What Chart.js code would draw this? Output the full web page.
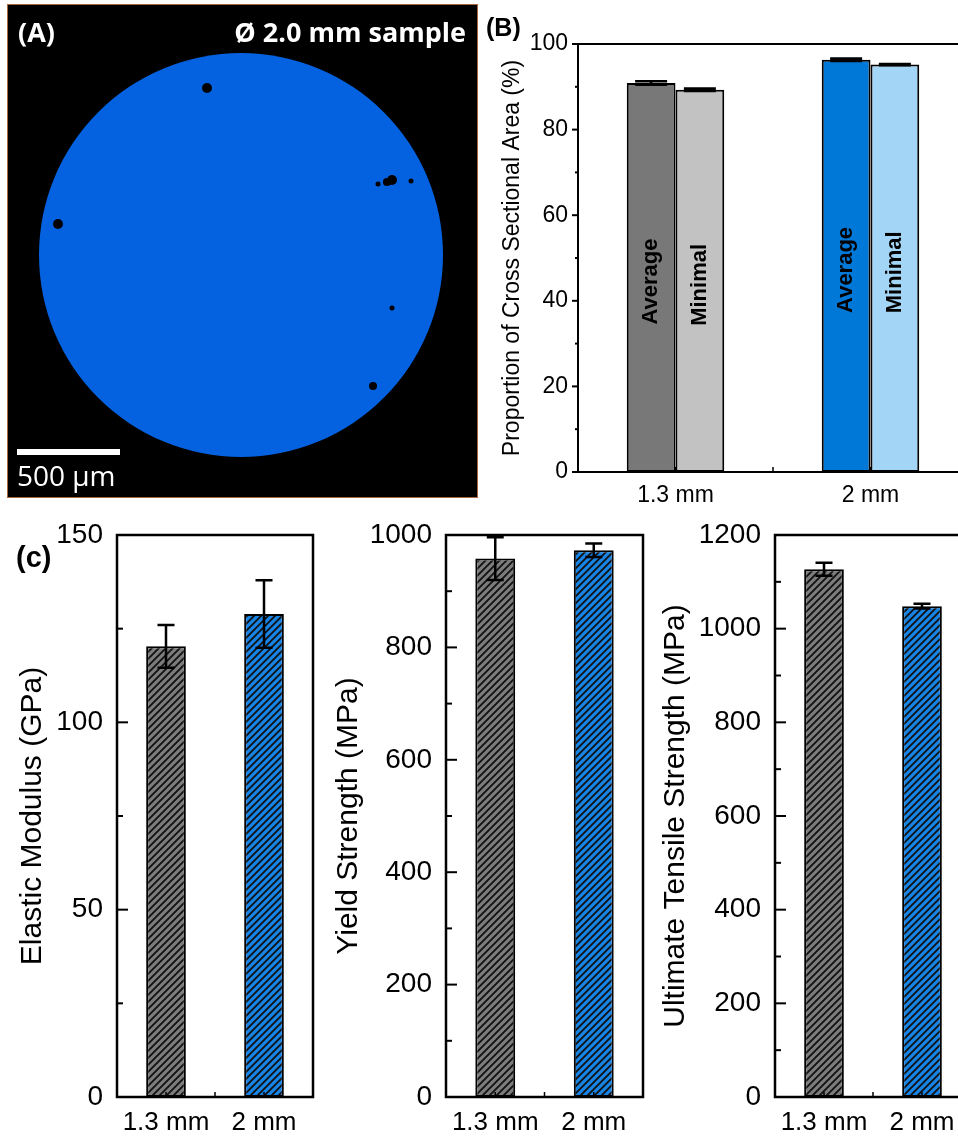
<!DOCTYPE html>
<html>
<head>
<meta charset="utf-8">
<script src="https://cdn.jsdelivr.net/npm/chart.js@4.4.1/dist/chart.umd.min.js"></script>
<style>
html, body { margin: 0; padding: 0; background: #fff; width: 958px; height: 1136px; overflow: hidden; position: relative; }
.box { position: absolute; overflow: hidden; }
.lbl { position: absolute; font: bold 25px "Liberation Sans", Arial, sans-serif; color: #000; }
</style>
</head>
<body>
<canvas id="micro" class="box" width="480" height="505" style="left:0;top:0"></canvas>
<div class="box" style="left:480px;top:0;width:478px;height:520px"><canvas id="areaChart" width="490" height="520"></canvas></div>
<div class="box" style="left:0;top:520px;width:330px;height:616px"><canvas id="modChart" width="330" height="616"></canvas></div>
<div class="box" style="left:330px;top:520px;width:330px;height:616px"><canvas id="yieldChart" width="330" height="616"></canvas></div>
<div class="box" style="left:660px;top:520px;width:298px;height:616px"><canvas id="utsChart" width="330" height="616"></canvas></div>
<div class="lbl" style="left:486px;top:13px">(B)</div>
<div class="lbl" style="left:16px;top:541px;font-size:29px">(c)</div>
<script>
// panel B: porosity
const areaCats = ['1.3 mm', '2 mm'];
const areaAverage = [90.9, 96.3];
const areaAverageErr = [0.4, 0.3];
const areaMinimal = [89.3, 95.2];
const areaMinimalErr = [0.3, 0.15];
const areaTicks = [0, 20, 40, 60, 80, 100];

// panel C: tensile results
const mechCats = ['1.3 mm', '2 mm'];
const modulus = [120.3, 128.9];
const modulusErr = [5.7, 9.0];
const modulusTicks = [0, 50, 100, 150];
const yieldStr = [958, 973];
const yieldErr = [38, 12];
const yieldTicks = [0, 200, 400, 600, 800, 1000];
const uts = [1127, 1048];
const utsErr = [14, 5];
const utsTicks = [0, 200, 400, 600, 800, 1000, 1200];

Chart.defaults.font.family = '"Liberation Sans", Arial, sans-serif';
Chart.defaults.color = '#000';

// micrograph (panel A)
(function () {
  const c = document.getElementById('micro').getContext('2d');
  c.fillStyle = '#000';
  c.fillRect(8, 5, 470, 493);
  c.strokeStyle = '#a8683c';
  c.lineWidth = 1;
  c.strokeRect(7.5, 4.5, 470, 493);
  c.fillStyle = '#0462e0';
  c.beginPath();
  c.arc(241, 255, 202, 0, Math.PI * 2);
  c.fill();
  c.fillStyle = '#000';
  [[207, 88, 5], [58, 224, 5], [392, 180, 5], [387, 182, 4], [378, 184, 2.5], [411, 181, 2.5], [392, 308, 2.5], [373, 386, 4]].forEach(p => {
    c.beginPath(); c.arc(p[0], p[1], p[2], 0, Math.PI * 2); c.fill();
  });
  c.fillStyle = '#fff';
  c.font = 'bold 27px "Open Sans", sans-serif';
  c.fillText('(A)', 18, 42);
  c.textAlign = 'right';
  c.fillText('\u00D8 2.0 mm sample', 466, 42);
  c.fillRect(17, 449, 103, 6);
  c.textAlign = 'left';
  c.font = '28px "Open Sans", sans-serif';
  c.fillText('500 \u00B5m', 17, 486);
})();

function hatch(base) {
  const t = document.createElement('canvas');
  t.width = 7; t.height = 7;
  const g = t.getContext('2d');
  g.fillStyle = base;
  g.fillRect(0, 0, 7, 7);
  g.strokeStyle = '#111';
  g.lineWidth = 1.8;
  g.beginPath();
  g.moveTo(-1, 8); g.lineTo(8, -1);
  g.moveTo(-1, 1); g.lineTo(1, -1);
  g.moveTo(6, 8); g.lineTo(8, 6);
  g.stroke();
  return g.createPattern(t, 'repeat');
}

// box, tick marks, category ticks
const frame = {
  id: 'frame',
  afterDatasetsDraw(chart, args, o) {
    const { ctx, chartArea: a, scales: { x, y } } = chart;
    ctx.save();
    ctx.strokeStyle = '#000';
    ctx.lineWidth = o.lw;
    ctx.strokeRect(a.left, a.top, a.right - a.left, a.bottom - a.top);
    ctx.lineWidth = 2;
    y.ticks.forEach(t => {
      const py = y.getPixelForValue(t.value);
      const len = t.label !== '' ? o.major : o.minor;
      ctx.beginPath();
      ctx.moveTo(a.left, py);
      ctx.lineTo(a.left + o.dir * len, py);
      ctx.stroke();
    });
    ctx.lineWidth = 1.5;
    const c0 = x.getPixelForValue(0), c1 = x.getPixelForValue(1);
    [c0, (c0 + c1) / 2, c1].forEach(px => {
      ctx.beginPath();
      ctx.moveTo(px, a.bottom);
      ctx.lineTo(px, a.bottom - 5);
      ctx.stroke();
    });
    ctx.restore();
  }
};

const errbars = {
  id: 'errbars',
  afterDatasetsDraw(chart, args, o) {
    const { ctx, scales: { y } } = chart;
    ctx.save();
    ctx.strokeStyle = '#000';
    ctx.lineWidth = o.width;
    chart.data.datasets.forEach((ds, di) => {
      chart.getDatasetMeta(di).data.forEach((el, i) => {
        const v = ds.data[i], e = ds.errors[i];
        const top = y.getPixelForValue(v + e), bot = y.getPixelForValue(v - e);
        ctx.beginPath();
        ctx.moveTo(el.x, top); ctx.lineTo(el.x, bot);
        ctx.moveTo(el.x - o.cap, top); ctx.lineTo(el.x + o.cap, top);
        ctx.moveTo(el.x - o.cap, bot); ctx.lineTo(el.x + o.cap, bot);
        ctx.stroke();
      });
    });
    ctx.restore();
  }
};

const inLabels = {
  id: 'inLabels',
  afterDatasetsDraw(chart) {
    const { ctx } = chart;
    ctx.save();
    ctx.fillStyle = '#000';
    ctx.font = 'bold 22px "Liberation Sans", Arial, sans-serif';
    ctx.textAlign = 'center';
    ctx.textBaseline = 'middle';
    chart.data.datasets.forEach((ds, di) => {
      chart.getDatasetMeta(di).data.forEach(el => {
        ctx.save();
        ctx.translate(el.x, (el.y + el.base) / 2 + 4);
        ctx.rotate(-Math.PI / 2);
        ctx.fillText(ds.label, 0, 0);
        ctx.restore();
      });
    });
    ctx.restore();
  }
};

function fixY(w) {
  return s => { s.width = w; s.paddingTop = 0; s.paddingBottom = 0; };
}
function fixX(h) {
  return s => { s.height = h; s.paddingLeft = 0; s.paddingRight = 0; };
}

new Chart(document.getElementById('areaChart'), {
  type: 'bar',
  data: {
    labels: areaCats,
    datasets: [
      { label: 'Average', data: areaAverage, errors: areaAverageErr, backgroundColor: ['#787878', '#0078d7'], borderColor: '#000', borderWidth: 2, borderSkipped: false },
      { label: 'Minimal', data: areaMinimal, errors: areaMinimalErr, backgroundColor: ['#c2c2c2', '#a3d5f6'], borderColor: '#000', borderWidth: 2, borderSkipped: false }
    ]
  },
  options: {
    responsive: false,
    animation: false,
    layout: { padding: { left: 0, top: 44, right: 2, bottom: 0 } },
    datasets: { bar: { categoryPercentage: 0.5, barPercentage: 1 } },
    plugins: {
      legend: { display: false },
      tooltip: { enabled: false },
      errbars: { cap: 16, width: 2.5 },
      frame: { dir: -1, major: 6, minor: 3, lw: 2 }
    },
    scales: {
      x: {
        grid: { display: false, drawTicks: false },
        border: { display: false },
        ticks: { font: { size: 23 }, padding: 10 },
        afterFit: fixX(48)
      },
      y: {
        min: 0, max: 100,
        grid: { display: false, drawTicks: false },
        border: { display: false },
        ticks: { stepSize: 10, autoSkip: false, font: { size: 23 }, padding: 10,
          callback: v => areaTicks.includes(v) ? String(v) : '' },
        title: { display: true, text: 'Proportion of Cross Sectional Area (%)', font: { size: 23 }, padding: { top: 19, bottom: 0 } },
        afterFit: fixY(98)
      }
    }
  },
  plugins: [frame, errbars, inLabels]
});

function mechChart(id, values, errs, ticks, minorStep, title, titlePad, yWidth, padRight) {
  const max = ticks[ticks.length - 1];
  return new Chart(document.getElementById(id), {
    type: 'bar',
    data: {
      labels: mechCats,
      datasets: [{ label: title, data: values, errors: errs,
        backgroundColor: [hatch('#7c7c7c'), hatch('#1784e6')],
        borderColor: '#000', borderWidth: 2, borderSkipped: false }]
    },
    options: {
      responsive: false,
      animation: false,
      layout: { padding: { left: 0, top: 15, right: padRight, bottom: 0 } },
      datasets: { bar: { categoryPercentage: 0.405, barPercentage: 1 } },
      plugins: {
        legend: { display: false },
        tooltip: { enabled: false },
        errbars: { cap: 8.5, width: 2.5 },
        frame: { dir: 1, major: 11, minor: 6, lw: 2.5 }
      },
      scales: {
        x: {
          grid: { display: false, drawTicks: false },
          border: { display: false },
          ticks: { font: { size: 26 }, padding: 10 },
          afterFit: fixX(39)
        },
        y: {
          min: 0, max: max,
          grid: { display: false, drawTicks: false },
          border: { display: false },
          ticks: { stepSize: minorStep, autoSkip: false, font: { size: 28 }, padding: 14,
            callback: v => ticks.includes(v) ? String(v) : '' },
          title: { display: true, text: title, font: { size: 30, lineHeight: 1 }, padding: { top: titlePad, bottom: 0 } },
          afterFit: fixY(yWidth)
        }
      }
    },
    plugins: [frame, errbars]
  });
}

mechChart('modChart', modulus, modulusErr, modulusTicks, 25, 'Elastic Modulus (GPa)', 18, 117, 17);
mechChart('yieldChart', yieldStr, yieldErr, yieldTicks, 100, 'Yield Strength (MPa)', 4, 116, 17);
mechChart('utsChart', uts, utsErr, utsTicks, 100, 'Ultimate Tensile Strength (MPa)', 1, 115, 19);
</script>
</body>
</html>
